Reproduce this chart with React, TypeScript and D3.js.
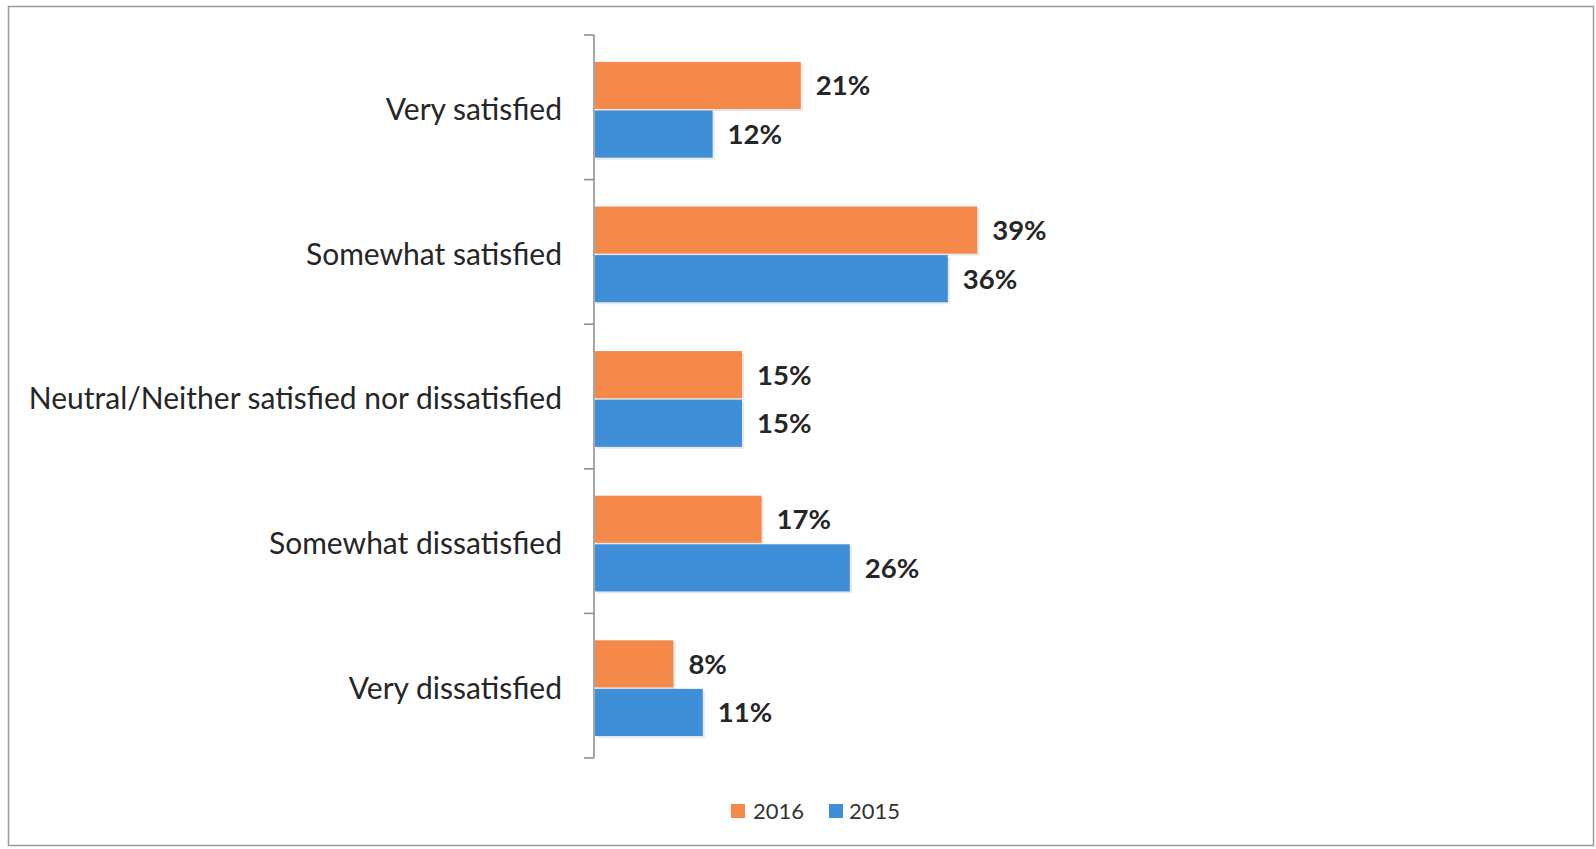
import React from "react";
import * as d3 from "d3";

const categories = [
  "Very satisfied",
  "Somewhat satisfied",
  "Neutral/Neither satisfied nor dissatisfied",
  "Somewhat dissatisfied",
  "Very dissatisfied",
];
const seriesNames = ["2016", "2015"];
const values2016 = [21, 39, 15, 17, 8];
const values2015 = [12, 36, 15, 26, 11];
const colors = ["#F5894A", "#3E8ED8"];

const W = 1596;
const H = 849;

export default function App() {
  const x = d3.scaleLinear().domain([0, 100]).range([595, 1575]);
  const y = d3.scaleBand<string>().domain(categories).range([35, 758]).padding(0);
  const bw = y.bandwidth();
  const inner = d3
    .scaleBand<string>()
    .domain(seriesNames)
    .range([bw * 0.186, bw * 0.848])
    .paddingInner(0.03);
  const series = [values2016, values2015];
  const ticks = [...categories.map((c) => y(c) as number), 758];
  const font = "Lato, 'Open Sans', sans-serif";

  return (
    <svg
      width={W}
      height={H}
      style={{ position: "absolute", left: 0, top: 0, background: "#fff" }}
    >
      <rect x={8.5} y={6.5} width={1585} height={839} fill="#fff" stroke="#9a9a9a" strokeWidth={1.5} />
      {categories.map((c, i) => (
        <g key={c}>
          {series.map((vals, s) => {
            const by = (y(c) as number) + (inner(seriesNames[s]) as number);
            const bh = inner.bandwidth();
            return (
              <g key={s}>
                <rect
                  x={x(0) + 2}
                  y={by + 2}
                  width={x(vals[i]) - x(0)}
                  height={bh}
                  fill="#d8d8d8"
                  opacity={0.6}
                />
                <rect x={x(0)} y={by} width={x(vals[i]) - x(0)} height={bh} fill={colors[s]} />
                <text
                  x={x(vals[i]) + 15}
                  y={by + bh / 2}
                  dy="0.36em"
                  fontFamily={font}
                  fontWeight="bold"
                  fontSize={27.5}
                  fill="#262626"
                >
                  {vals[i]}%
                </text>
              </g>
            );
          })}
          <text
            x={562}
            y={(y(c) as number) + bw / 2 + 2}
            dy="0.36em"
            textAnchor="end"
            fontFamily={font}
            fontSize={30}
            fill="#262626"
          >
            {c}
          </text>
        </g>
      ))}
      <line x1={594} x2={594} y1={35} y2={758} stroke="#8a8a8a" strokeWidth={1.5} />
      {ticks.map((t, i) => (
        <line key={i} x1={584} x2={594} y1={t} y2={t} stroke="#8a8a8a" strokeWidth={1.5} />
      ))}
      <g fontFamily={font} fontSize={22} fill="#333">
        <rect x={731} y={804} width={14} height={14} fill={colors[0]} />
        <text x={753} y={811} dy="0.36em">{seriesNames[0]}</text>
        <rect x={829} y={804} width={14} height={14} fill={colors[1]} />
        <text x={849} y={811} dy="0.36em">{seriesNames[1]}</text>
      </g>
    </svg>
  );
}
